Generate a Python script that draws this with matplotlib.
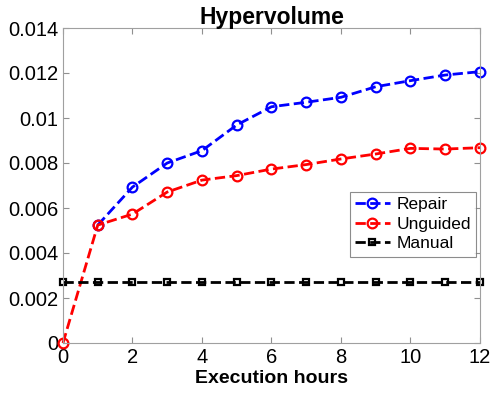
import numpy as np
import matplotlib.pyplot as plt

plt.rcParams['font.family'] = ['Liberation Sans', 'DejaVu Sans']

hours = np.arange(0, 13)
repair_hours = np.arange(1, 13)
repair = [0.00524, 0.00693, 0.0080, 0.00855, 0.00969, 0.0105, 0.0107,
          0.01092, 0.01139, 0.01166, 0.01191, 0.01206]
unguided = [0.0, 0.00524, 0.00573, 0.00671, 0.00724, 0.00744, 0.00773,
            0.00793, 0.00818, 0.0084, 0.00865, 0.00862, 0.00868]
manual = [0.0027] * 13

fig = plt.figure(figsize=(4.92, 4.0), dpi=100)
ax = fig.add_axes([0.128, 0.1425, 0.8476, 0.7875])

ax.plot(repair_hours, repair, '--o', color='#0000ff', lw=2, ms=7,
        mfc='none', mew=1.6, label='Repair', clip_on=False)
ax.plot(hours, unguided, '--o', color='#ff0000', lw=2, ms=7,
        mfc='none', mew=1.6, label='Unguided', clip_on=False)
ax.plot(hours, manual, '--s', color='black', lw=2, ms=5,
        mfc='none', mew=1.6, label='Manual', clip_on=False)

ax.set_xlim(0, 12)
ax.set_ylim(0, 0.014)
ax.set_xticks(range(0, 13, 2))
ax.set_yticks(np.arange(0, 0.0141, 0.002))
ax.set_yticklabels(['0', '0.002', '0.004', '0.006', '0.008', '0.01', '0.012', '0.014'])
ax.tick_params(direction='in', top=True, right=True, labelsize=14.5,
               color='#909090', length=4)
for s in ax.spines.values():
    s.set_color('#a0a0a0')

ax.set_title('Hypervolume', fontsize=16.5, fontweight='bold', pad=3)
ax.set_xlabel('Execution hours', fontsize=14, fontweight='bold', labelpad=2)

leg = ax.legend(loc='upper left', bbox_to_anchor=(0.688, 0.479), fontsize=12.5,
                fancybox=False, edgecolor='#707070', handlelength=2.0,
                borderpad=0.3, labelspacing=0.25, handletextpad=0.4,
                borderaxespad=0)
leg.get_frame().set_linewidth(0.8)

fig.savefig('out.png', dpi=100)
